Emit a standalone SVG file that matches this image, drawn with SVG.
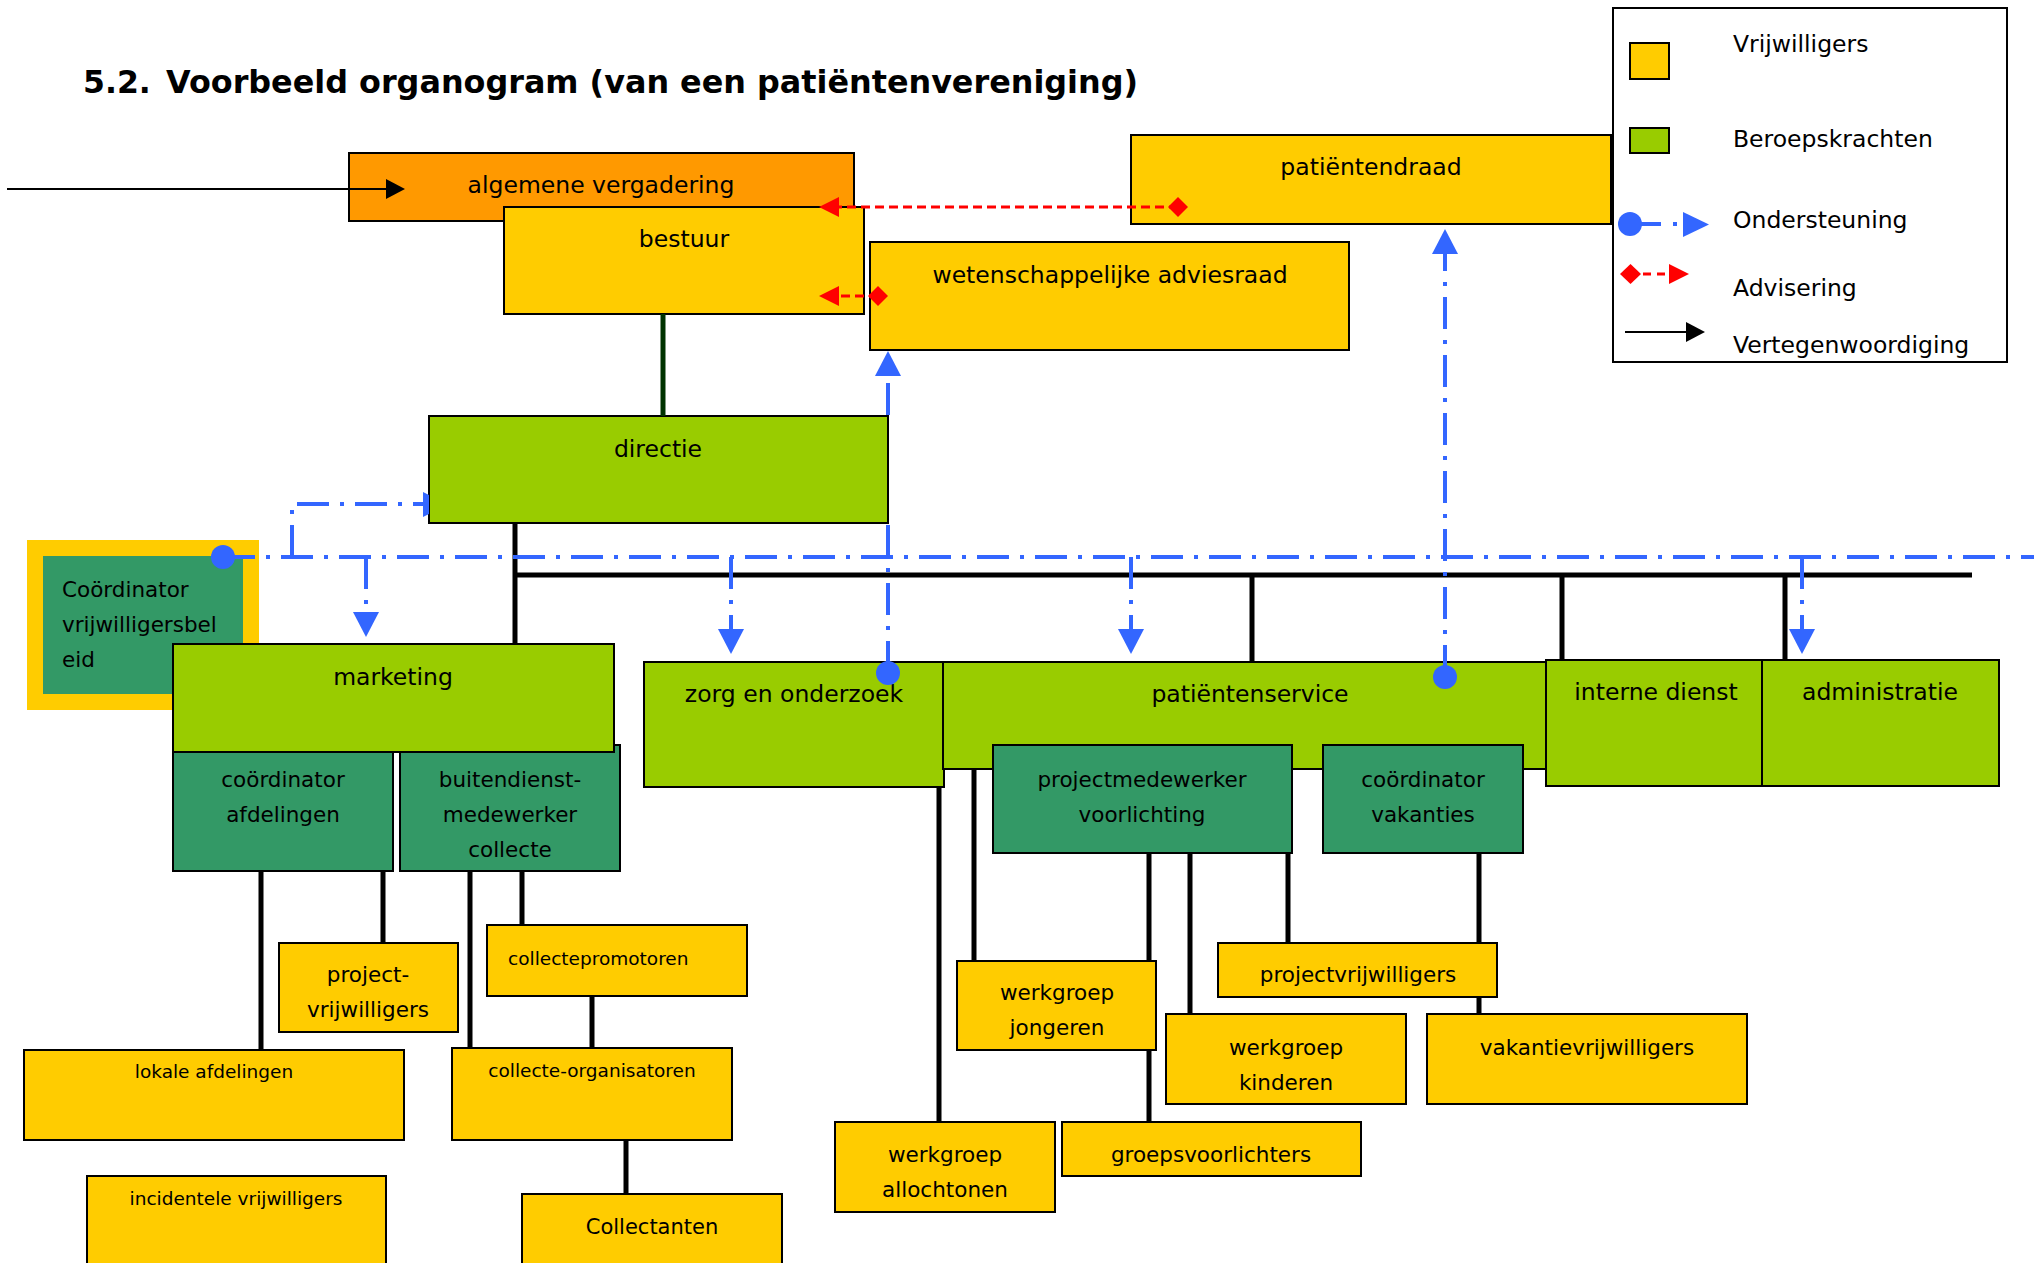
<svg xmlns="http://www.w3.org/2000/svg" width="2034" height="1263" viewBox="0 0 2034 1263">
<style>
text{font-family:"DejaVu Sans",Verdana,sans-serif;font-size:23.5px;fill:#000;text-anchor:middle}
text.s{font-size:18.5px}
text.m{font-size:21.5px}
text.l{text-anchor:start}
.title{font-weight:bold;font-size:31.5px;text-anchor:start}
.y{fill:#FFCC00;stroke:#000;stroke-width:2}
.g{fill:#99CC00;stroke:#000;stroke-width:2}
.dg{fill:#339966;stroke:#000;stroke-width:2}
.o{fill:#FF9900;stroke:#000;stroke-width:2}
.blk{stroke:#000;stroke-width:5;fill:none}
.sup{stroke:#3366FF;stroke-width:4;stroke-dasharray:32 11 4 11;fill:none}
.adv{stroke:#FF0000;stroke-width:3;stroke-dasharray:9 5;fill:none}
</style>
<defs>
<marker id="ab" viewBox="0 0 25 26" markerWidth="25" markerHeight="26" refX="0" refY="13" orient="auto" markerUnits="userSpaceOnUse"><path d="M0,0 L25,13 L0,26 z" fill="#3366FF"/></marker>
<marker id="cb" viewBox="-12 -12 24 24" markerWidth="24" markerHeight="24" refX="0" refY="0" markerUnits="userSpaceOnUse"><circle r="12" fill="#3366FF"/></marker>
<marker id="ar" viewBox="0 0 20 20" markerWidth="20" markerHeight="20" refX="0" refY="10" orient="auto" markerUnits="userSpaceOnUse"><path d="M0,0 L20,10 L0,20 z" fill="#FF0000"/></marker>
<marker id="dr" viewBox="-10 -10 20 20" markerWidth="20" markerHeight="20" refX="0" refY="0" markerUnits="userSpaceOnUse"><path d="M-10,0 L0,-10 L10,0 L0,10 z" fill="#FF0000"/></marker>
<marker id="ak" viewBox="0 0 19 20" markerWidth="19" markerHeight="20" refX="0" refY="10" orient="auto" markerUnits="userSpaceOnUse"><path d="M0,0 L19,10 L0,20 z" fill="#000"/></marker>
</defs>
<rect width="2034" height="1263" fill="#fff"/>
<g id="title">
<text class="title" x="83" y="93">5.2.</text>
<text class="title" x="166" y="93" textLength="972" lengthAdjust="spacingAndGlyphs">Voorbeeld organogram (van een patiëntenvereniging)</text>
</g>
<g id="legend">
<rect x="1613" y="8" width="394" height="354" fill="#fff" stroke="#000" stroke-width="2"/>
<rect class="y" x="1630" y="43" width="39" height="36"/>
<rect class="g" x="1630" y="128" width="39" height="25"/>
<path d="M1630,224 H1661 M1673,224 H1677" stroke="#3366FF" stroke-width="4"/>
<circle cx="1630" cy="224" r="12" fill="#3366FF"/>
<path d="M1683,212 L1709,224.5 L1683,237 z" fill="#3366FF"/>
<path d="M1620,274 L1630.5,264 L1641,274 L1630.5,284 z" fill="#FF0000"/>
<path d="M1643,274 H1651 M1657,274 H1665" stroke="#FF0000" stroke-width="3"/>
<path d="M1669,264 L1689,274 L1669,284 z" fill="#FF0000"/>
<path d="M1625,332 H1686" stroke="#000" stroke-width="2"/>
<path d="M1686,322 L1705,332 L1686,342 z" fill="#000"/>
<text class="l" x="1733" y="52">Vrijwilligers</text>
<text class="l" x="1733" y="147">Beroepskrachten</text>
<text class="l" x="1733" y="228">Ondersteuning</text>
<text class="l" x="1733" y="296">Advisering</text>
<text class="l" x="1733" y="353">Vertegenwoordiging</text>
</g>
<g id="n-algemene-vergadering"><rect class="o" x="349" y="153" width="505" height="68"/><text x="601" y="193">algemene vergadering</text></g>
<g id="n-bestuur"><rect class="y" x="504" y="207" width="360" height="107"/><text x="684" y="247">bestuur</text></g>
<g id="n-wetenschappelijke-adviesraad"><rect class="y" x="870" y="242" width="479" height="108"/><text x="1110" y="283">wetenschappelijke adviesraad</text></g>
<g id="n-patientendraad"><rect class="y" x="1131" y="135" width="480" height="89"/><text x="1371" y="175">patiëntendraad</text></g>
<g id="n-directie"><rect class="g" x="429" y="416" width="459" height="107"/><text x="658" y="457">directie</text></g>
<g id="n-coordinator-vrijwilligersbeleid"><rect x="27" y="540" width="232" height="170" fill="#FFCC00"/><rect x="43" y="556" width="200" height="138" fill="#339966"/><text class="m l" x="62" y="597">Coördinator</text><text class="m l" x="62" y="632">vrijwilligersbel</text><text class="m l" x="62" y="667">eid</text></g>
<g id="n-buitendienst"><rect class="dg" x="400" y="745" width="220" height="126"/><text class="m" x="510" y="787">buitendienst-</text><text class="m" x="510" y="822">medewerker</text><text class="m" x="510" y="857">collecte</text></g>
<g id="n-coordinator-afdelingen"><rect class="dg" x="173" y="752" width="220" height="119"/><text class="m" x="283" y="787">coördinator</text><text class="m" x="283" y="822">afdelingen</text></g>
<g id="n-marketing"><rect class="g" x="173" y="644" width="441" height="108"/><text x="393" y="685">marketing</text></g>
<g id="n-zorg-en-onderzoek"><rect class="g" x="644" y="662" width="300" height="125"/><text x="794" y="702">zorg en onderzoek</text></g>
<g id="n-patientenservice"><rect class="g" x="943" y="662" width="603" height="107"/><text x="1250" y="702">patiëntenservice</text></g>
<g id="n-projectmedewerker-voorlichting"><rect class="dg" x="993" y="745" width="299" height="108"/><text class="m" x="1142" y="787">projectmedewerker</text><text class="m" x="1142" y="822">voorlichting</text></g>
<g id="n-coordinator-vakanties"><rect class="dg" x="1323" y="745" width="200" height="108"/><text class="m" x="1423" y="787">coördinator</text><text class="m" x="1423" y="822">vakanties</text></g>
<g id="n-interne-dienst"><rect class="g" x="1546" y="660" width="216" height="126"/><text x="1656" y="700">interne dienst</text></g>
<g id="n-administratie"><rect class="g" x="1762" y="660" width="237" height="126"/><text x="1880" y="700">administratie</text></g>
<g id="n-project-vrijwilligers"><rect class="y" x="279" y="943" width="179" height="89"/><text class="m" x="368" y="982">project-</text><text class="m" x="368" y="1017">vrijwilligers</text></g>
<g id="n-collectepromotoren"><rect class="y" x="487" y="925" width="260" height="71"/><text class="s l" x="508" y="965">collectepromotoren</text></g>
<g id="n-lokale-afdelingen"><rect class="y" x="24" y="1050" width="380" height="90"/><text class="s" x="214" y="1078">lokale afdelingen</text></g>
<g id="n-collecte-organisatoren"><rect class="y" x="452" y="1048" width="280" height="92"/><text class="s" x="592" y="1077">collecte-organisatoren</text></g>
<g id="n-collectanten"><rect class="y" x="522" y="1194" width="260" height="80"/><text class="m" x="652" y="1234" style="font-size:21px">Collectanten</text></g>
<g id="n-incidentele-vrijwilligers"><rect class="y" x="87" y="1176" width="299" height="100"/><text class="s" x="236" y="1205">incidentele vrijwilligers</text></g>
<g id="n-werkgroep-allochtonen"><rect class="y" x="835" y="1122" width="220" height="90"/><text class="m" x="945" y="1162">werkgroep</text><text class="m" x="945" y="1197">allochtonen</text></g>
<g id="n-groepsvoorlichters"><rect class="y" x="1062" y="1122" width="299" height="54"/><text class="m" x="1211" y="1162">groepsvoorlichters</text></g>
<g id="n-werkgroep-jongeren"><rect class="y" x="957" y="961" width="199" height="89"/><text class="m" x="1057" y="1000">werkgroep</text><text class="m" x="1057" y="1035">jongeren</text></g>
<g id="n-projectvrijwilligers"><rect class="y" x="1218" y="943" width="279" height="54"/><text class="m" x="1358" y="982">projectvrijwilligers</text></g>
<g id="n-werkgroep-kinderen"><rect class="y" x="1166" y="1014" width="240" height="90"/><text class="m" x="1286" y="1055">werkgroep</text><text class="m" x="1286" y="1090">kinderen</text></g>
<g id="n-vakantievrijwilligers"><rect class="y" x="1427" y="1014" width="320" height="90"/><text class="m" x="1587" y="1055">vakantievrijwilligers</text></g>
<g id="connectors">
<path d="M7,189 H386" stroke="#000" stroke-width="2" marker-end="url(#ak)"/>
<path d="M663,314 V416" stroke="#003300" stroke-width="5"/>
<path class="blk" d="M515,523 V644"/>
<path class="blk" d="M513,575 H1972" stroke-width="6"/>
<path class="blk" d="M1252,575 V662 M1562,575 V660 M1785,575 V660"/>
<path class="blk" d="M261,871 V1050 M383,871 V943 M470,871 V1048 M522,871 V925 M592,996 V1048 M626,1140 V1194"/>
<path class="blk" d="M939,787 V1122 M974,769 V961 M1149,853 V961 M1149,1050 V1122 M1190,853 V1014 M1288,853 V943 M1479,853 V943 M1479,997 V1014"/>
<path class="adv" d="M1178,207 H839" marker-start="url(#dr)" marker-end="url(#ar)"/>
<path class="adv" d="M878,296 H839" marker-start="url(#dr)" marker-end="url(#ar)"/>
<path class="sup" d="M223,557 H2034" marker-start="url(#cb)"/>
<path class="sup" d="M292,557 V504 H423"/>
<path d="M423,492 L429,495 L429,514 L423,517 z" fill="#3366FF"/>
<path class="sup" d="M366,557 V612" marker-end="url(#ab)"/>
<path class="sup" d="M731,557 V629" marker-end="url(#ab)"/>
<path class="sup" d="M1131,557 V629" marker-end="url(#ab)"/>
<path class="sup" d="M1802,557 V629" marker-end="url(#ab)"/>
<path class="sup" d="M888,673 V523" marker-start="url(#cb)"/>
<path class="sup" d="M888,415 V376" stroke-dasharray="none" marker-end="url(#ab)"/>
<path class="sup" d="M1445,677 V254" marker-start="url(#cb)" marker-end="url(#ab)"/>
</g>
</svg>
